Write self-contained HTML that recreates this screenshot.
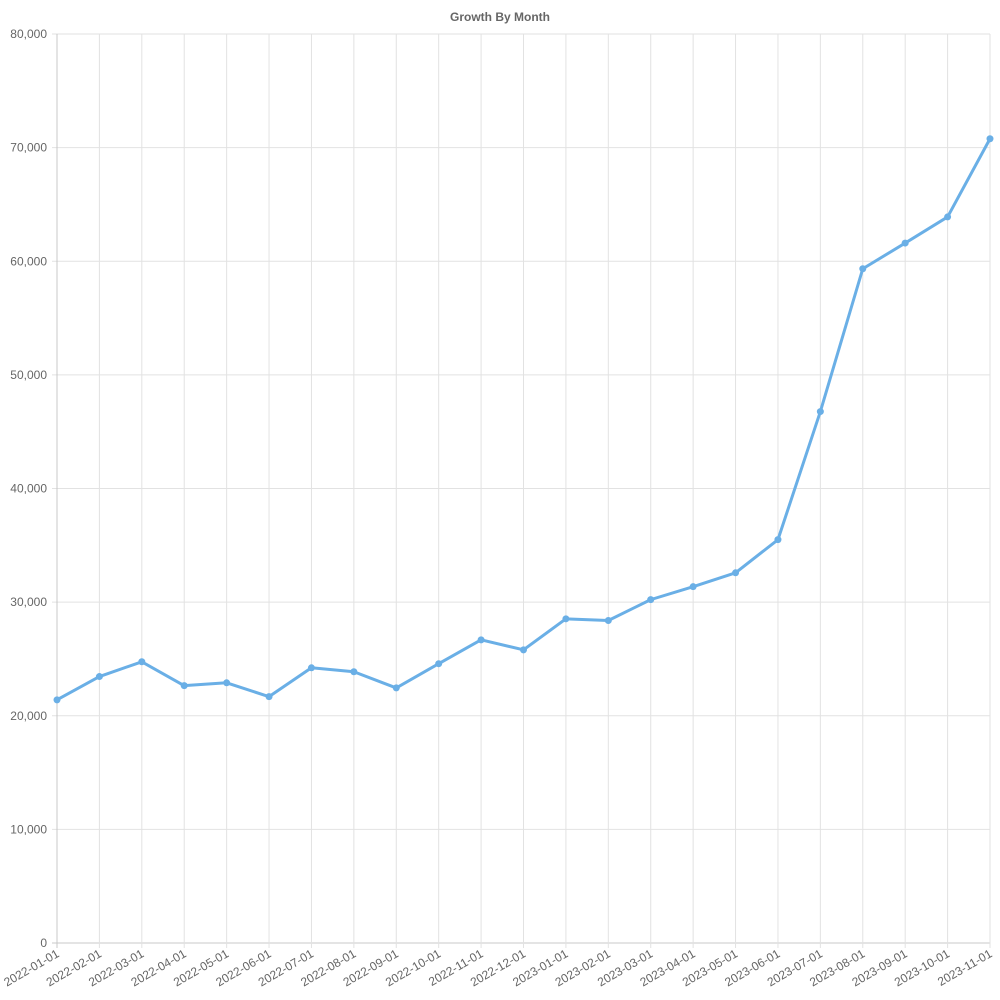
<!DOCTYPE html>
<html><head><meta charset="utf-8"><style>
html,body{margin:0;padding:0;background:#fff;width:1000px;height:1000px;overflow:hidden}
text{font-family:"Liberation Sans",Arial,sans-serif}
</style></head><body>
<svg id="chart" width="1000" height="1000"></svg>
<script>
const categories=["2022-01-01","2022-02-01","2022-03-01","2022-04-01","2022-05-01","2022-06-01","2022-07-01","2022-08-01","2022-09-01","2022-10-01","2022-11-01","2022-12-01","2023-01-01","2023-02-01","2023-03-01","2023-04-01","2023-05-01","2023-06-01","2023-07-01","2023-08-01","2023-09-01","2023-10-01","2023-11-01"];
const values=[21400,23450,24750,22650,22900,21680,24220,23870,22450,24580,26680,25800,28530,28380,30220,31360,32580,35500,46770,59340,61600,63900,70780];
const yTicks=[0,10000,20000,30000,40000,50000,60000,70000,80000];
const title="Growth By Month";

const svg=document.getElementById('chart');
const NS='http://www.w3.org/2000/svg';
const L=57,R=990,T=34,B=943,YMAX=80000;
const x=i=>L+(R-L)*i/(categories.length-1);
const y=v=>B-(B-T)*v/YMAX;
function mk(tag,attrs,parent){const e=document.createElementNS(NS,tag);for(const k in attrs)e.setAttribute(k,attrs[k]);(parent||svg).appendChild(e);return e;}

const t=mk('text',{x:500,y:21,'text-anchor':'middle','font-size':12,'font-weight':'bold',fill:'#666'});
t.textContent=title;



const grid=mk('g',{});


yTicks.forEach(v=>{
  const ln=mk('line',{x1:L-5,x2:R,y1:y(v),y2:y(v),stroke:v===0?'#c8c8c8':'#e2e2e2','stroke-width':1},grid);
  
  
  const tx=mk('text',{x:L-10,y:y(v)+4,'text-anchor':'end','font-size':12,fill:'#666'});
  tx.textContent=v.toLocaleString('en-US');
  
  
});
categories.forEach((c,i)=>{
  const ln=mk('line',{x1:x(i),x2:x(i),y1:T,y2:B+5,stroke:i===0?'#c8c8c8':'#e2e2e2','stroke-width':1},grid);
  
  
  const tx=mk('text',{x:x(i)+3,y:B+13,'text-anchor':'end','font-size':12,fill:'#666',transform:`rotate(-30 ${x(i)+3} ${B+13})`});
  tx.textContent=c;
  
  
});

const pts=values.map((v,i)=>x(i)+','+y(v)).join(' ');
const line=mk('polyline',{points:pts,fill:'none',stroke:'#6aafe6','stroke-width':3,'stroke-linejoin':'round'});


values.forEach((v,i)=>{
  const c=mk('circle',{cx:x(i),cy:y(v),r:3.5,fill:'#6aafe6'});
  
  
});
</script>
</body></html>
